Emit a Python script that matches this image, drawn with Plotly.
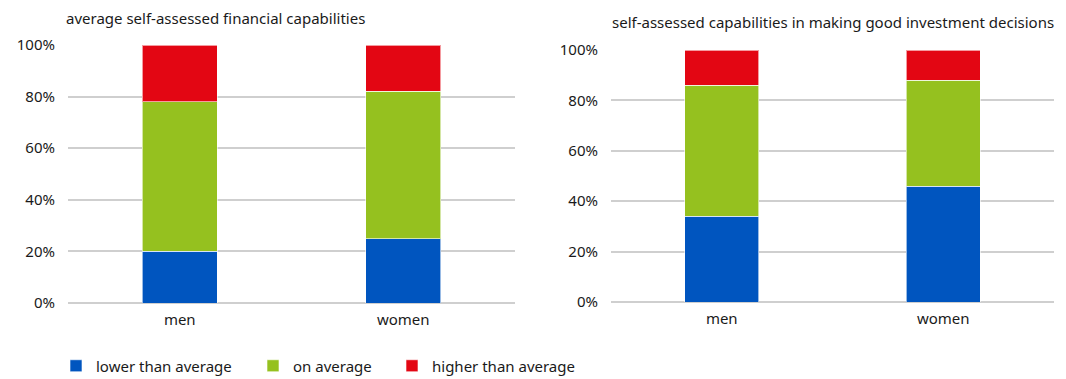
import plotly.graph_objects as go
from plotly.subplots import make_subplots

# Share of respondents by self-assessment, in percent
groups = ["men", "women"]
series_names = ["lower than average", "on average", "higher than average"]
series_colors = ["#0055bf", "#95c11f", "#e30613"]

financial = {
    "lower than average": [20, 25],
    "on average": [58, 57],
    "higher than average": [22, 18],
}
investment = {
    "lower than average": [34, 46],
    "on average": [52, 42],
    "higher than average": [14, 12],
}

title_left = "average self-assessed financial capabilities"
title_right = "self-assessed capabilities in making good investment decisions"

W, H = 1066, 379
TOP, BOTTOM = 30, 75             # fixed margins; titles and legend sit inside them
PH = H - TOP - BOTTOM            # height of the paper area
FONT = "Noto Sans, Open Sans, sans-serif"


def px_x(x):
    return x / W


def px_y(y):
    return (H - BOTTOM - y) / PH


fig = make_subplots(rows=1, cols=2)

legend_ids = ["legend", "legend2", "legend3"]
for col, data in ((1, financial), (2, investment)):
    for name, color, lg in zip(series_names, series_colors, legend_ids):
        fig.add_trace(
            go.Bar(
                x=groups,
                y=data[name],
                name=name,
                marker=dict(color=color, line=dict(color="rgba(255,255,255,0.6)", width=1)),
                width=0.335,
                showlegend=(col == 1),
                legendgroup=name,
                legend=lg,
            ),
            row=1,
            col=col,
        )

legend_common = dict(
    orientation="h",
    xanchor="left",
    y=px_y(366),
    yanchor="middle",
    font=dict(size=15),
    itemwidth=30,
    bgcolor="rgba(0,0,0,0)",
)

fig.update_layout(
    barmode="stack",
    width=W,
    height=H,
    margin=dict(l=0, r=0, t=TOP, b=BOTTOM, autoexpand=False),
    paper_bgcolor="white",
    plot_bgcolor="white",
    font=dict(family=FONT, size=14, color="#1a1a1a"),
    legend=dict(legend_common, x=px_x(56)),
    legend2=dict(legend_common, x=px_x(253)),
    legend3=dict(legend_common, x=px_x(392)),
    xaxis=dict(domain=[px_x(68), px_x(515)]),
    xaxis2=dict(domain=[px_x(611), px_x(1054)]),
    yaxis=dict(domain=[px_y(303), px_y(45)]),
    yaxis2=dict(domain=[px_y(302), px_y(50)]),
)

fig.update_xaxes(
    showgrid=False,
    showline=False,
    ticks="",
    tickfont=dict(size=15),
    ticklabelstandoff=6,
    automargin=False,
)
fig.update_yaxes(
    range=[0, 100],
    dtick=20,
    ticksuffix="%",
    showgrid=True,
    gridcolor="#cfcfcf",
    gridwidth=1.5,
    zeroline=True,
    zerolinecolor="#cfcfcf",
    zerolinewidth=1.5,
    showline=False,
    ticks="",
    tickfont=dict(size=15),
    ticklabelstandoff=12,
    automargin=False,
)

fig.add_annotation(
    text=title_left, xref="paper", yref="paper",
    x=px_x(64), y=px_y(18), xanchor="left", yanchor="middle",
    showarrow=False, font=dict(size=15),
)
fig.add_annotation(
    text=title_right, xref="paper", yref="paper",
    x=px_x(610), y=px_y(22), xanchor="left", yanchor="middle",
    showarrow=False, font=dict(size=15),
)

fig.write_html("out.html")
